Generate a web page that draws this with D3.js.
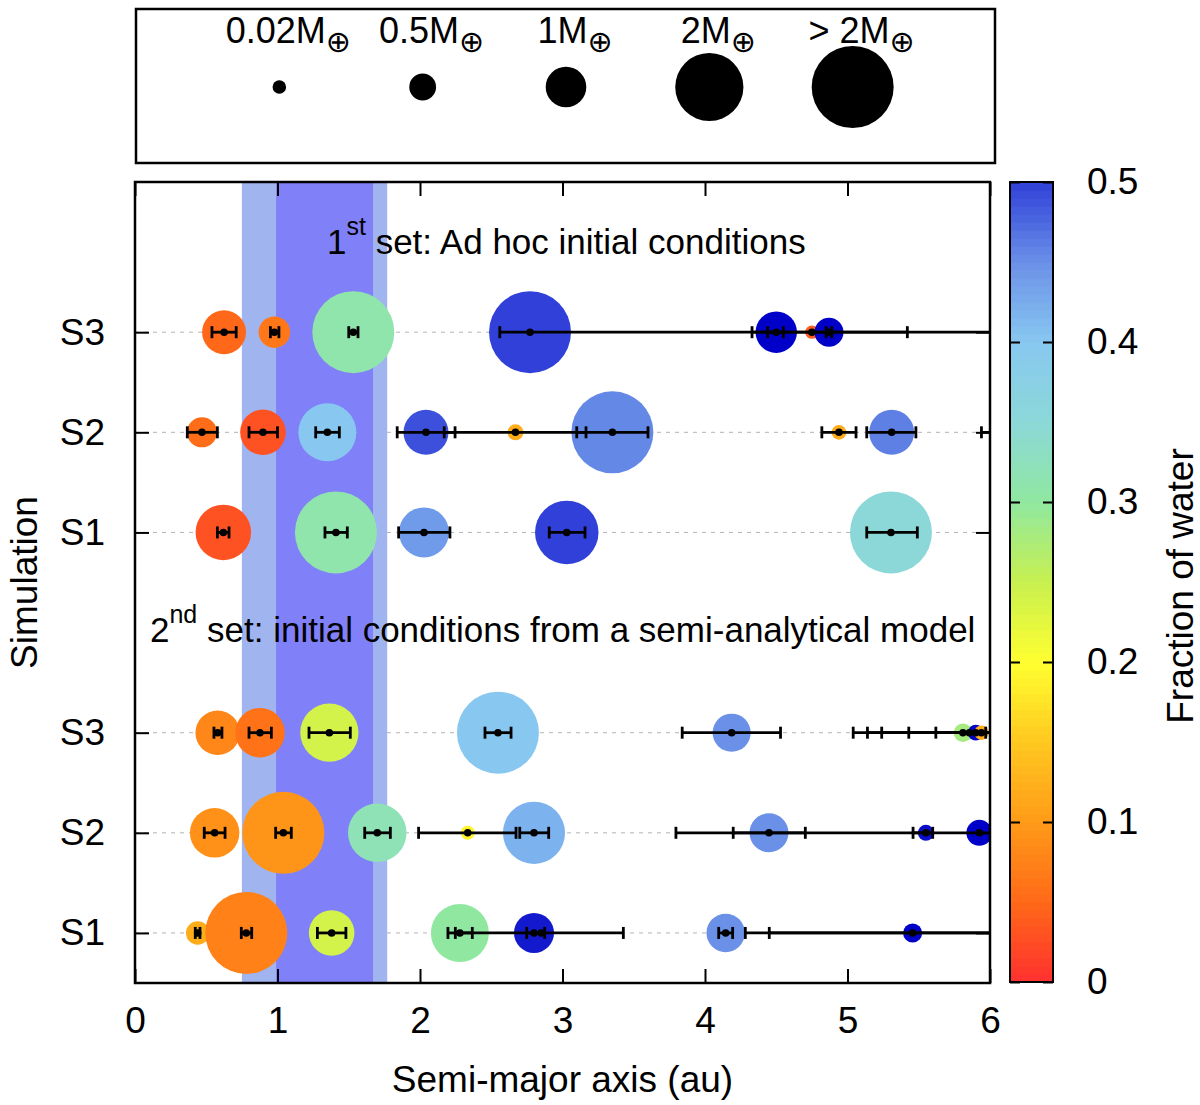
<!DOCTYPE html>
<html><head><meta charset="utf-8">
<script src="https://cdn.jsdelivr.net/npm/d3@7"></script>
<style>
body{margin:0;background:#fff}
svg{display:block}
text{font-family:"Liberation Sans",Arial,Helvetica,sans-serif;fill:#000}
</style>
</head><body>
<svg id="c" width="1200" height="1105"></svg>
<script>
// ---------------- data ----------------
const xTicks = [0, 1, 2, 3, 4, 5, 6];
const rowPos = [1, 2, 3, 5, 6, 7];
const rowLabels = ["S1", "S2", "S3", "S1", "S2", "S3"];
const cbTicks = [0, 0.1, 0.2, 0.3, 0.4, 0.5];
const legendPos = [1, 2, 3, 4, 5];
const legendMass = [0.02, 0.5, 1, 2, 2.5];
const legendLabels = ["0.02", "0.5", "1", "2", "> 2"];
const hzOptimistic = [0.75, 1.77];
const hzConservative = [0.99, 1.67];

// planets: [semi-major axis, mass (M_earth), water fraction, perihelion, aphelion]
const set1_S3 = [
  [0.625, 1.12, 0.05, 0.54, 0.71],
  [0.978, 0.67, 0.065, 0.95, 1.01],
  [1.532, 2.5, 0.31, 1.50, 1.565],
  [2.772, 2.5, 0.50, 2.56, 6.8],
  [4.50, 1.03, 0.60, 4.44, 4.55],
  [4.75, 0.01, 0.04, 4.33, 5.42],
  [4.87, 0.58, 0.60, 4.85, 4.89]
];
const set1_S2 = [
  [0.47, 0.62, 0.055, 0.367, 0.578],
  [0.898, 1.18, 0.03, 0.80, 1.0],
  [1.35, 1.63, 0.40, 1.268, 1.434],
  [2.042, 1.16, 0.49, 1.84, 2.246],
  [2.67, 0.11, 0.12, 2.17, 3.165],
  [3.35, 2.5, 0.455, 3.10, 3.60],
  [4.94, 0.06, 0.12, 4.82, 5.06],
  [5.31, 1.16, 0.46, 5.135, 5.48],
  [6.3, 0.3, 0.3, 5.94, 6.7]
];
const set1_S1 = [
  [0.62, 1.54, 0.03, 0.578, 0.66],
  [1.41, 2.5, 0.31, 1.333, 1.49],
  [2.028, 1.34, 0.44, 1.85, 2.21],
  [3.03, 1.83, 0.50, 2.907, 3.158],
  [5.305, 2.5, 0.35, 5.135, 5.49]
];
const set2_S3 = [
  [0.58, 1.14, 0.08, 0.554, 0.61],
  [0.877, 1.32, 0.06, 0.80, 0.957],
  [1.364, 1.64, 0.24, 1.221, 1.511],
  [2.547, 2.5, 0.40, 2.456, 2.639],
  [4.187, 0.91, 0.45, 3.84, 4.53],
  [5.81, 0.2, 0.28, 5.04, 5.97],
  [5.855, 0.01, 0.28, 5.14, 6.2],
  [5.90, 0.1, 0.60, 5.24, 6.3],
  [5.94, 0.05, 0.12, 5.43, 6.4],
  [6.2, 0.1, 0.1, 5.62, 6.8]
];
const set2_S2 = [
  [0.559, 1.32, 0.09, 0.486, 0.632],
  [1.041, 2.5, 0.095, 0.987, 1.097],
  [1.70, 1.65, 0.32, 1.612, 1.792],
  [2.335, 0.04, 0.19, 1.99, 2.674],
  [2.80, 1.78, 0.42, 2.70, 2.903],
  [4.449, 0.94, 0.45, 4.198, 4.704],
  [5.55, 0.11, 0.58, 5.46, 5.598],
  [5.925, 0.47, 0.60, 3.796, 6.5]
];
const set2_S1 = [
  [0.44, 0.38, 0.12, 0.423, 0.456],
  [0.781, 2.5, 0.075, 0.746, 0.819],
  [1.38, 1.18, 0.24, 1.28, 1.48],
  [2.28, 1.63, 0.30, 2.196, 2.367],
  [2.80, 0.98, 0.56, 2.749, 2.875],
  [2.85, 0.01, 0.56, 2.248, 3.427],
  [4.145, 0.92, 0.45, 4.096, 4.194],
  [5.457, 0.22, 0.60, 4.451, 6.5],
  [6.4, 0.1, 0.5, 4.283, 8.0]
];
const rowData = [set2_S1, set2_S2, set2_S3, set1_S1, set1_S2, set1_S3];

// ---------------- scales ----------------
const svg = d3.select("#c");
const x = d3.scaleLinear().domain([0, 6]).range([135, 990]);
const y = d3.scaleLinear().domain([0.5, 8.5]).range([983, 182]);
const lx = d3.scaleLinear().domain([0, 6]).range([136, 996]);
const rScale = d3.scaleLinear().domain([0, 2.5]).range([6.5, 41]).clamp(true);
const color = d3.scaleLinear()
  .domain([0, 0.05, 0.1, 0.15, 0.2, 0.25, 0.3, 0.35, 0.4, 0.45, 0.5, 0.6])
  .range(["#ff3030", "#ff6818", "#ff9a18", "#ffc820", "#ffff30", "#c8f050",
          "#90e8a0", "#8cd8d8", "#88c8f0", "#6a90e8", "#3040d8", "#0000c8"])
  .clamp(true);
const cb = d3.scaleLinear().domain([0, 0.5]).range([982, 182]);

const planets = [];
rowData.forEach((arr, i) => arr.forEach(p => planets.push({
  row: rowPos[i], a: p[0], m: p[1], w: p[2], q: p[3], Q: p[4]
})));

const FS = 37;

// ---------------- legend ----------------
const leg = svg.append("g");
leg.append("rect").attr("x", 136).attr("y", 9).attr("width", 859).attr("height", 154)
  .attr("fill", "none").attr("stroke", "#000").attr("stroke-width", 2.5);
leg.selectAll("circle").data(legendPos).join("circle")
  .attr("cx", d => lx(d)).attr("cy", 87).attr("r", (d, i) => rScale(legendMass[i]))
  .attr("fill", "#000");
const lt = leg.selectAll("text").data(legendPos).join("text")
  .attr("x", d => lx(d) + 9).attr("y", 43).attr("text-anchor", "middle")
  .style("font-size", "36px");
lt.append("tspan").text((d, i) => legendLabels[i] + "M");
lt.append("tspan").text("\u2295").attr("dy", 9).style("font-size", "30px")
  .style("font-family", "'DejaVu Sans',sans-serif");

// ---------------- plot ----------------
svg.append("defs").append("clipPath").attr("id", "pc").append("rect")
  .attr("x", x(0)).attr("y", y(8.5)).attr("width", x(6) - x(0)).attr("height", y(0.5) - y(8.5));

const plot = svg.append("g").attr("clip-path", "url(#pc)");

plot.selectAll("line.grid").data(rowPos).join("line").attr("class", "grid")
  .attr("x1", x(0)).attr("x2", x(6)).attr("y1", d => y(d)).attr("y2", d => y(d))
  .attr("stroke", "#b4b4b4").attr("stroke-width", 1).attr("stroke-dasharray", "4,5");

function styleAxis(g) {
  g.select(".domain").remove();
  g.selectAll(".tick line").attr("stroke", "#000").attr("stroke-width", 2);
  g.selectAll(".tick text").style("font-size", FS + "px").attr("fill", "#000");
}
svg.append("g").attr("transform", `translate(0,${y(0.5)})`)
  .call(d3.axisBottom(x).tickValues(xTicks).tickSize(-14).tickPadding(24).tickFormat(d3.format("d")))
  .call(styleAxis);
svg.append("g").attr("transform", `translate(0,${y(8.5)})`)
  .call(d3.axisTop(x).tickValues(xTicks).tickSize(-14).tickFormat(""))
  .call(styleAxis);
svg.append("g").attr("transform", `translate(${x(0)},0)`)
  .call(d3.axisLeft(y).tickValues(rowPos).tickSize(-14).tickPadding(30).tickFormat((d, i) => rowLabels[i]))
  .call(styleAxis);
svg.append("g").attr("transform", `translate(${x(6)},0)`)
  .call(d3.axisRight(y).tickValues(rowPos).tickSize(-14).tickFormat(""))
  .call(styleAxis);

// habitable zone bands
[[hzOptimistic, "#a0b4f0"], [hzConservative, "#8080f8"]].forEach(([hz, c]) => {
  plot.append("rect").attr("x", x(hz[0])).attr("width", x(hz[1]) - x(hz[0]))
    .attr("y", y(8.5)).attr("height", y(0.5) - y(8.5)).attr("fill", c);
});

// planets
plot.selectAll("circle.pl").data(planets).join("circle").attr("class", "pl")
  .attr("cx", d => x(d.a)).attr("cy", d => y(d.row)).attr("r", d => rScale(d.m))
  .attr("fill", d => color(d.w));

const eb = plot.append("g").attr("stroke", "#000").attr("stroke-width", 2.8);
eb.selectAll("line.bar").data(planets).join("line").attr("class", "bar")
  .attr("x1", d => x(d.q)).attr("x2", d => x(d.Q)).attr("y1", d => y(d.row)).attr("y2", d => y(d.row));
eb.selectAll("line.capL").data(planets).join("line").attr("class", "capL")
  .attr("x1", d => x(d.q)).attr("x2", d => x(d.q)).attr("y1", d => y(d.row) - 6).attr("y2", d => y(d.row) + 6);
eb.selectAll("line.capR").data(planets).join("line").attr("class", "capR")
  .attr("x1", d => x(d.Q)).attr("x2", d => x(d.Q)).attr("y1", d => y(d.row) - 6).attr("y2", d => y(d.row) + 6);
plot.selectAll("circle.dot").data(planets).join("circle").attr("class", "dot")
  .attr("cx", d => x(d.a)).attr("cy", d => y(d.row)).attr("r", 3.8).attr("fill", "#000");

// frame
svg.append("rect").attr("x", x(0)).attr("y", y(8.5)).attr("width", x(6) - x(0)).attr("height", y(0.5) - y(8.5))
  .attr("fill", "none").attr("stroke", "#000").attr("stroke-width", 2.5);

// set labels
function supLabel(xp, yp, a, sup, rest) {
  const t = svg.append("text").attr("x", xp).attr("y", yp).style("font-size", "35px");
  t.append("tspan").text(a);
  t.append("tspan").text(sup).attr("dy", -19).style("font-size", "25px");
  t.append("tspan").text(rest).attr("dy", 19);
}
supLabel(327, y(7.9) + 12, "1", "st", " set: Ad hoc initial conditions");
supLabel(150, y(4.03) + 12, "2", "nd", " set: initial conditions from a semi-analytical model");

// axis titles
svg.append("text").attr("x", (x(0) + x(6)) / 2).attr("y", 1092).attr("text-anchor", "middle")
  .style("font-size", FS + "px").text("Semi-major axis (au)");
svg.append("text").attr("transform", `translate(37,${(y(0.5) + y(8.5)) / 2}) rotate(-90)`)
  .attr("text-anchor", "middle").style("font-size", FS + "px").text("Simulation");

// ---------------- colorbar ----------------
const cbx0 = 1010, cbx1 = 1053;
const steps = d3.range(0, 0.5, 0.005);
svg.append("g").selectAll("rect").data(steps).join("rect")
  .attr("x", cbx0).attr("width", cbx1 - cbx0)
  .attr("y", d => cb(d + 0.005)).attr("height", d => cb(d) - cb(d + 0.005) + 0.6)
  .attr("fill", d => color(d + 0.0025));
svg.append("rect").attr("x", cbx0).attr("y", cb(0.5)).attr("width", cbx1 - cbx0).attr("height", cb(0) - cb(0.5))
  .attr("fill", "none").attr("stroke", "#000").attr("stroke-width", 2);
svg.append("g").attr("transform", `translate(${cbx1},0)`)
  .call(d3.axisRight(cb).tickValues(cbTicks).tickSize(-10).tickPadding(34).tickFormat(d => d === 0 ? "0" : d3.format(".1f")(d)))
  .call(styleAxis);
svg.append("g").attr("transform", `translate(${cbx0},0)`)
  .call(d3.axisLeft(cb).tickValues(cbTicks).tickSize(-10).tickFormat(""))
  .call(styleAxis);
svg.append("text").attr("transform", `translate(1193,586) rotate(-90)`)
  .attr("text-anchor", "middle").style("font-size", FS + "px").text("Fraction of water");
</script>
</body></html>
